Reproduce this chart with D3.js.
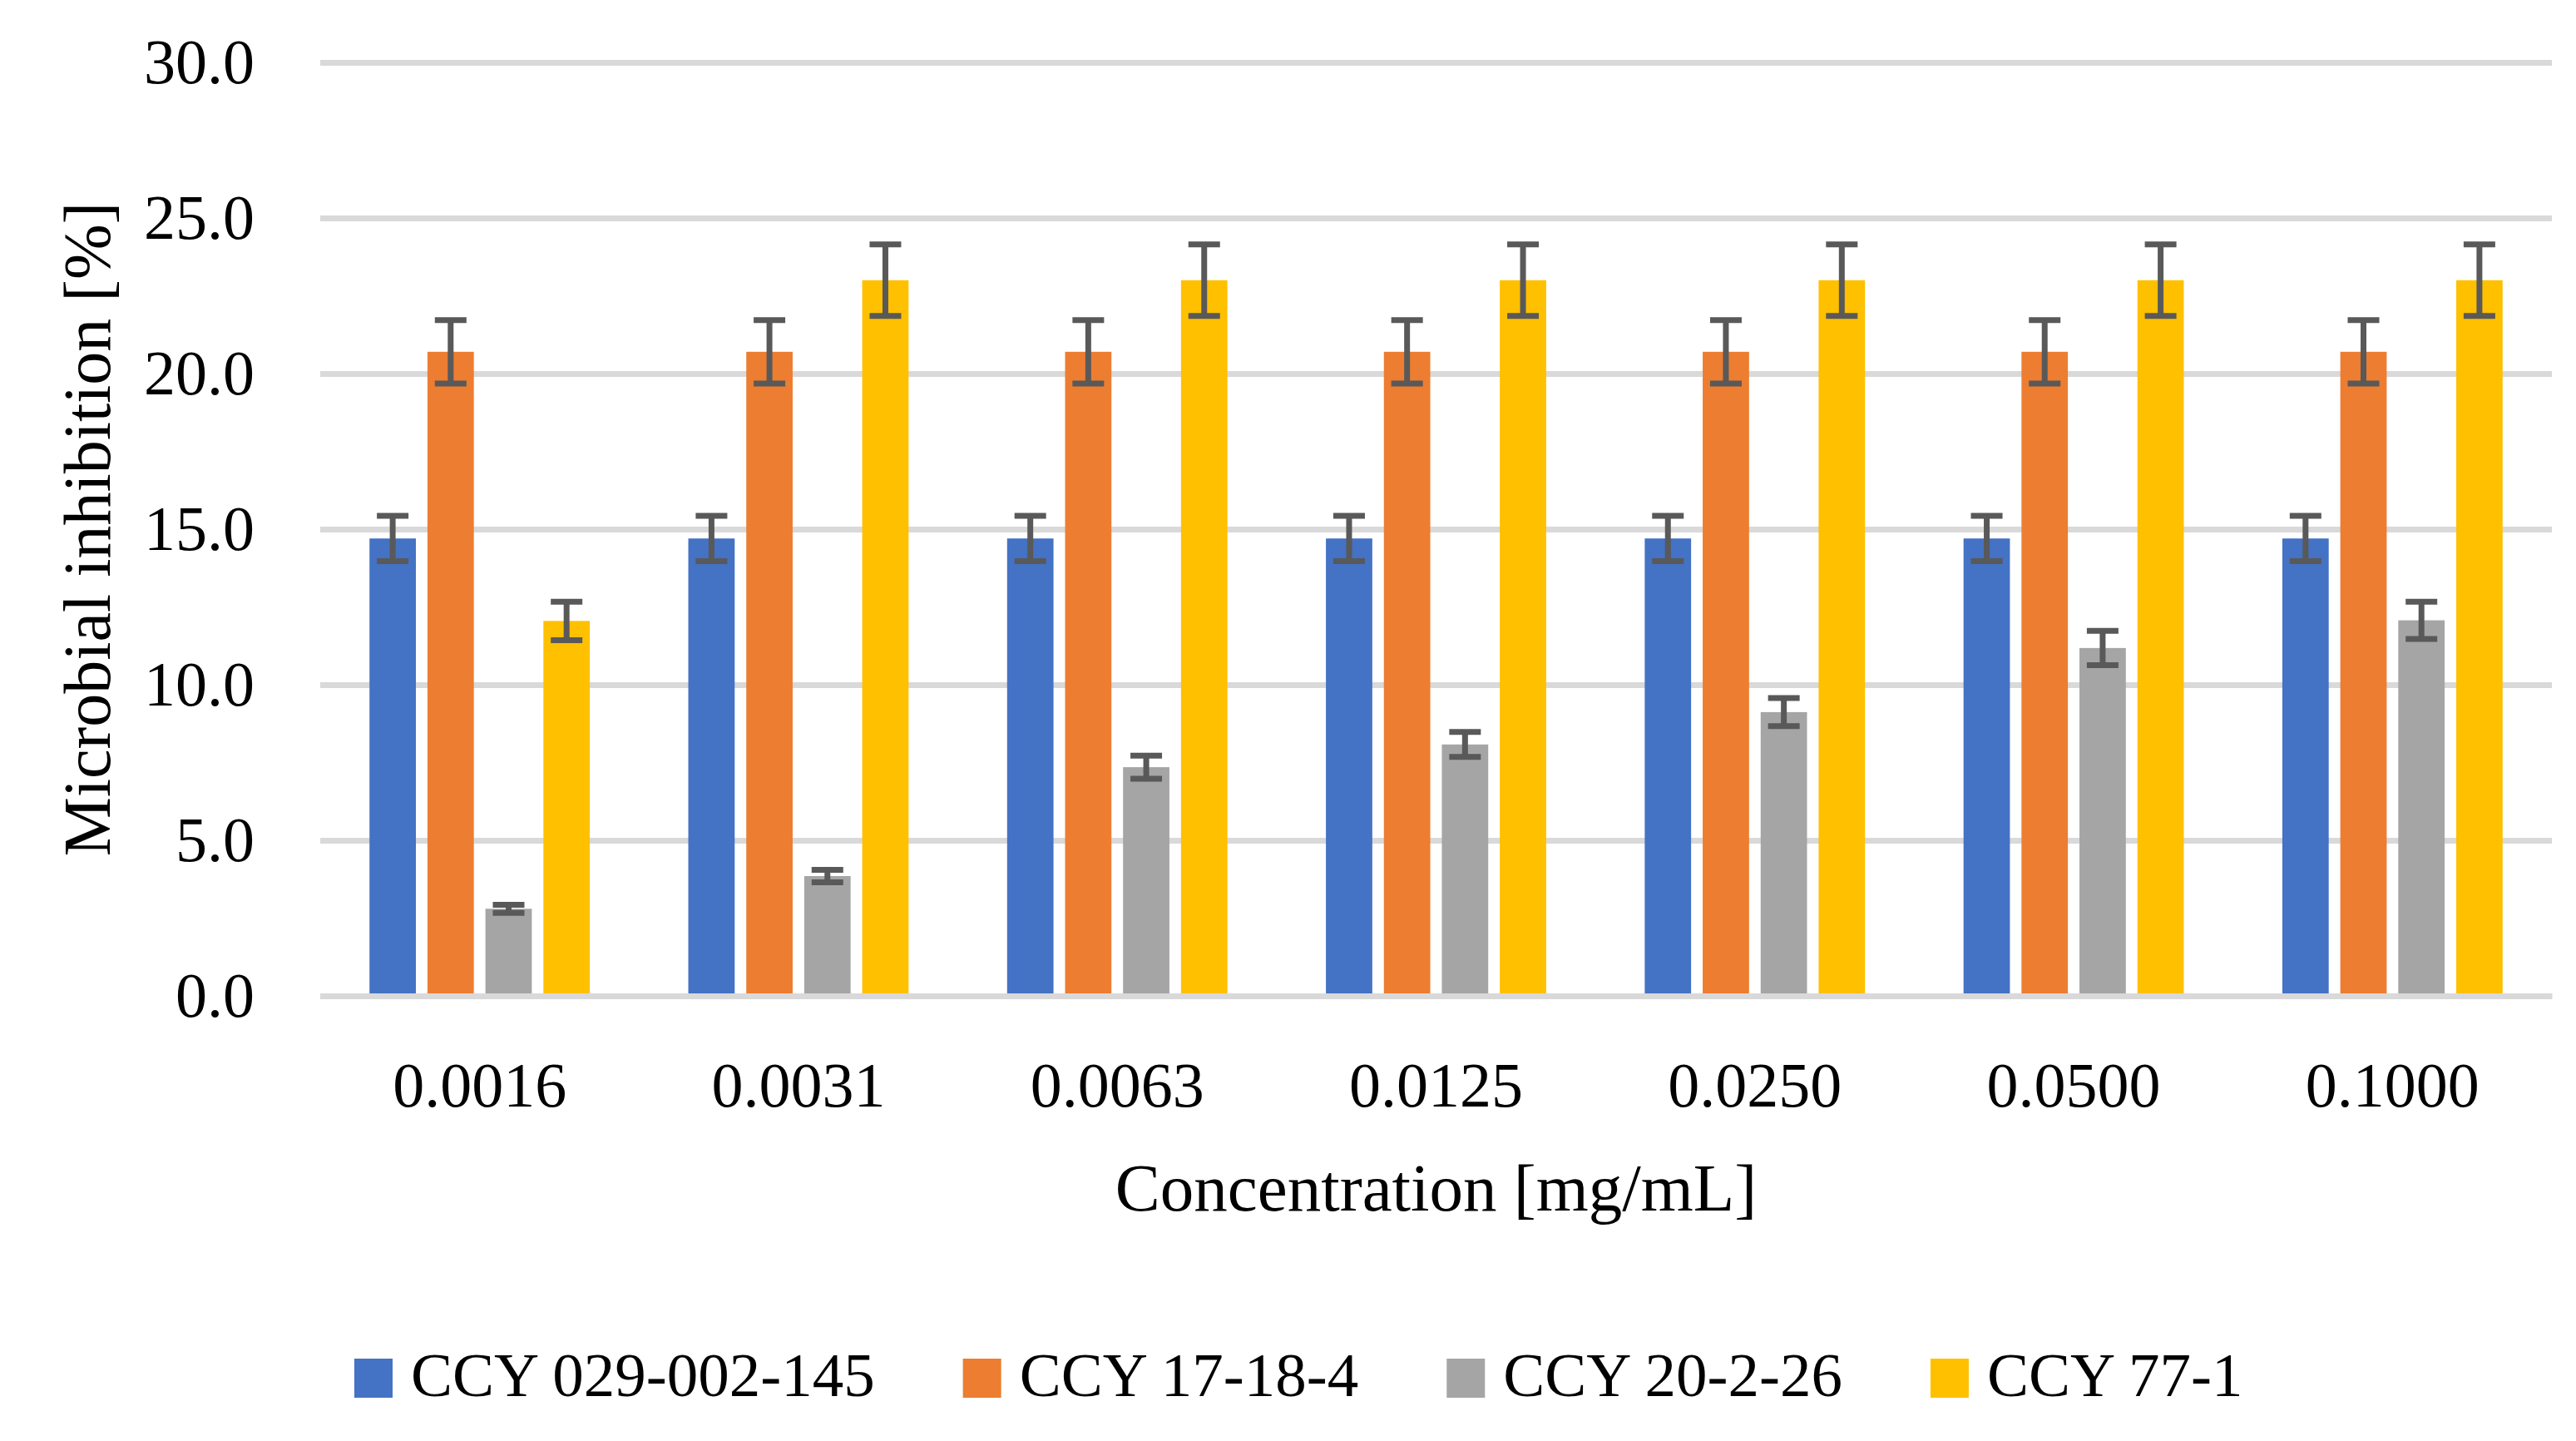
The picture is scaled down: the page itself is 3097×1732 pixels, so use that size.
<!doctype html>
<html lang="en">
  <head>
    <meta charset="UTF-8" />
    <title>Microbial inhibition by concentration</title>
    <script src="https://d3js.org/d3.v7.min.js"></script>
    <style>
      body {
        margin: 0;
        padding: 0;
        background-color: #ffffff;
      }

      svg text {
        font-family: 'Liberation Serif', 'Times New Roman', serif;
        fill: #000000;
      }
    </style>
  </head>
  <body>
    <div id="chart"></div>

    <script>
      // Categories (x axis)
      const concentrations = ['0.0016', '0.0031', '0.0063', '0.0125', '0.0250', '0.0500', '0.1000']

      // Series names
      const strains = ['CCY 029-002-145', 'CCY 17-18-4', 'CCY 20-2-26', 'CCY 77-1']

      // Mean values
      const ccy029 = [14.7, 14.7, 14.7, 14.7, 14.7, 14.7, 14.7]
      const ccy17 = [20.7, 20.7, 20.7, 20.7, 20.7, 20.7, 20.7]
      const ccy20 = [2.8, 3.85, 7.35, 8.08, 9.12, 11.18, 12.07]
      const ccy77 = [12.05, 23.0, 23.0, 23.0, 23.0, 23.0, 23.0]

      // Error bar half-widths
      const err029 = [0.73, 0.73, 0.73, 0.73, 0.73, 0.73, 0.73]
      const err17 = [1.02, 1.02, 1.02, 1.02, 1.02, 1.02, 1.02]
      const err20 = [0.13, 0.2, 0.37, 0.4, 0.45, 0.55, 0.6]
      const err77 = [0.62, 1.15, 1.15, 1.15, 1.15, 1.15, 1.15]

      // Y tick values
      const yTicks = [0, 5, 10, 15, 20, 25, 30]

      const colors = ['#4472C4', '#ED7D31', '#A5A5A5', '#FFC000']

      const seriesValues = [ccy029, ccy17, ccy20, ccy77]
      const seriesErrors = [err029, err17, err20, err77]

      const width = 3097
      const height = 1732
      const margin = { top: 75, right: 29, bottom: 535, left: 385 }

      const svg = d3
        .select('#chart')
        .append('svg')
        .attr('width', width)
        .attr('height', height)

      const x0 = d3
        .scaleBand()
        .domain(concentrations)
        .range([margin.left, width - margin.right])
        .padding(0)

      const x1 = d3
        .scaleBand()
        .domain(strains)
        .range([0, x0.bandwidth()])
        .paddingInner(0.2)
        .paddingOuter(0.85)

      const y = d3
        .scaleLinear()
        .domain([0, 30])
        .range([height - margin.bottom, margin.top])

      // Gridlines + y tick labels
      svg
        .append('g')
        .attr('transform', `translate(${margin.left}, 0)`)
        .call(
          d3
            .axisLeft(y)
            .tickValues(yTicks)
            .tickFormat(d3.format('.1f'))
            .tickSize(-(width - margin.left - margin.right))
            .tickPadding(79)
        )
        .call((g) => g.select('.domain').remove())
        .call((g) => g.selectAll('.tick line').attr('stroke', '#D9D9D9').attr('stroke-width', 7))
        .call((g) => g.selectAll('.tick text').attr('font-size', '76px').attr('fill', '#000'))

      // Flatten data for bars
      const rows = []
      concentrations.forEach((c, i) => {
        strains.forEach((s, j) => {
          rows.push({ conc: c, strain: s, value: seriesValues[j][i], err: seriesErrors[j][i], color: colors[j] })
        })
      })

      const groups = svg
        .append('g')
        .selectAll('.bar')
        .data(rows)
        .enter()
        .append('g')
        .attr('transform', (d) => `translate(${x0(d.conc) + x1(d.strain)}, 0)`)

      groups
        .append('rect')
        .attr('x', 0)
        .attr('y', (d) => y(d.value))
        .attr('width', x1.bandwidth())
        .attr('height', (d) => y(0) - y(d.value))
        .attr('fill', (d) => d.color)

      // Error bars
      const cap = 19
      const mid = x1.bandwidth() / 2
      groups
        .append('line')
        .attr('x1', mid)
        .attr('x2', mid)
        .attr('y1', (d) => y(d.value + d.err))
        .attr('y2', (d) => y(d.value - d.err))
        .attr('stroke', '#595959')
        .attr('stroke-width', 7)

      groups
        .append('line')
        .attr('x1', mid - cap)
        .attr('x2', mid + cap)
        .attr('y1', (d) => y(d.value + d.err))
        .attr('y2', (d) => y(d.value + d.err))
        .attr('stroke', '#595959')
        .attr('stroke-width', 7)

      groups
        .append('line')
        .attr('x1', mid - cap)
        .attr('x2', mid + cap)
        .attr('y1', (d) => y(d.value - d.err))
        .attr('y2', (d) => y(d.value - d.err))
        .attr('stroke', '#595959')
        .attr('stroke-width', 7)

      // X axis (baseline drawn over bars)
      svg
        .append('g')
        .attr('transform', `translate(0, ${y(0)})`)
        .call(d3.axisBottom(x0).tickSize(0).tickPadding(79))
        .call((g) => g.select('.domain').attr('stroke', '#D9D9D9').attr('stroke-width', 7))
        .call((g) => g.selectAll('.tick text').attr('font-size', '76px').attr('fill', '#000'))

      // Axis titles
      svg
        .append('text')
        .attr('x', (margin.left + width - margin.right) / 2)
        .attr('y', 1455)
        .attr('text-anchor', 'middle')
        .attr('font-size', '81px')
        .text('Concentration [mg/mL]')

      svg
        .append('text')
        .attr('transform', `translate(132, ${(y(0) + y(30)) / 2}) rotate(-90)`)
        .attr('text-anchor', 'middle')
        .attr('font-size', '80px')
        .text('Microbial inhibition [%]')

      // Legend
      const legend = svg.append('g').attr('transform', 'translate(0, 1657)')
      let lx = 426
      strains.forEach((s, j) => {
        legend
          .append('rect')
          .attr('x', lx)
          .attr('y', -24)
          .attr('width', 46)
          .attr('height', 47)
          .attr('fill', colors[j])
        const t = legend
          .append('text')
          .attr('x', lx + 68)
          .attr('y', 21)
          .attr('font-size', '75px')
          .text(s)
        lx += 68 + t.node().getComputedTextLength() + 106
      })
    </script>
  </body>
</html>
